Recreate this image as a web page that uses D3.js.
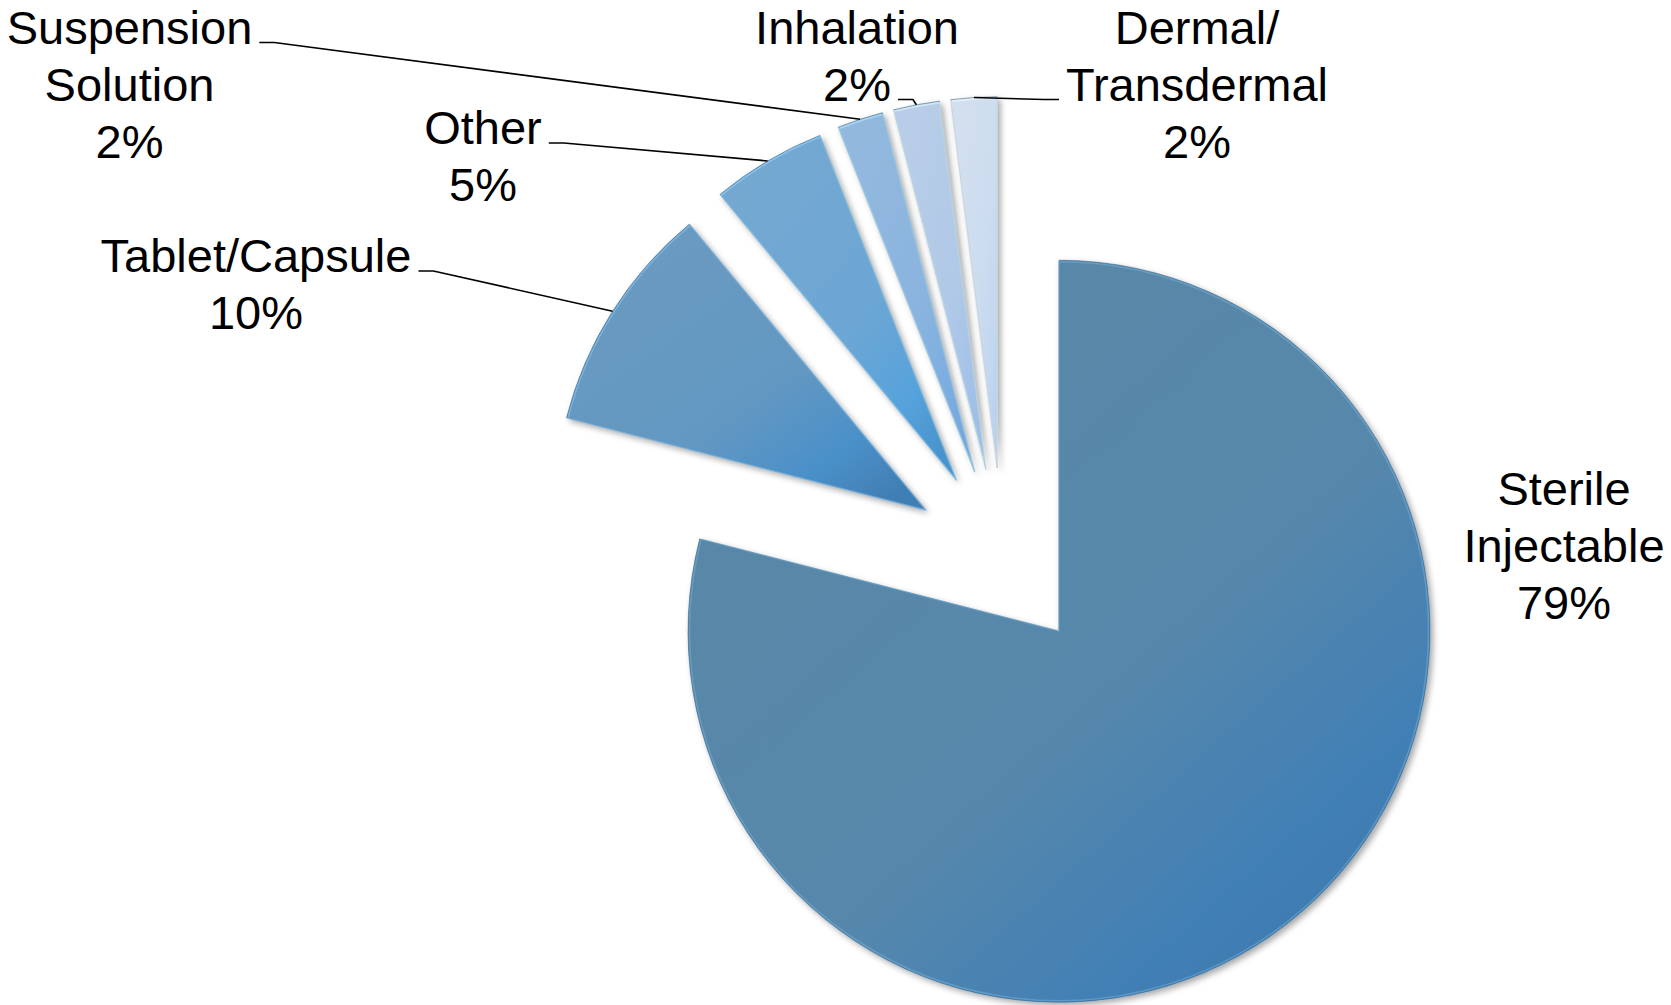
<!DOCTYPE html>
<html>
<head>
<meta charset="utf-8">
<script src="https://cdn.jsdelivr.net/npm/d3@7"></script>
<style>
  html, body { margin: 0; padding: 0; background: #ffffff; }
  svg { display: block; }
  text { font-family: "Liberation Sans", Arial, sans-serif; fill: #000; }
</style>
</head>
<body>
<svg id="chart" width="1671" height="1005"></svg>
<script>
// ---- data ----
const categories = ["Sterile Injectable", "Tablet/Capsule", "Other", "Suspension Solution", "Inhalation", "Dermal/Transdermal"];
const values = [79, 10, 5, 2, 2, 2];
const labelLines = [["Sterile", "Injectable"], ["Tablet/Capsule"], ["Other"], ["Suspension", "Solution"], ["Inhalation"], ["Dermal/", "Transdermal"]];
const percentLabels = ["79%", "10%", "5%", "2%", "2%", "2%"];

// ---- layout / style (not data) ----
const W = 1671, H = 1005;
const center = [1003, 559];
const radius = 371;
const explode = 91.4;
const fontSize = 47;
const lineHeight = 57;
// label placement: x centre, first baseline, leader side & which line carries the leader
const labelLayout = [
  { x: 1564, y: 505, leader: null },
  { x: 256, y: 272, leader: { side: "right", line: 0 } },
  { x: 483, y: 144, leader: { side: "right", line: 0 } },
  { x: 129.5, y: 43.5, leader: { side: "right", line: 0 } },
  { x: 857, y: 43.5, leader: { side: "right", line: 1 } },
  { x: 1197, y: 43.5, leader: { side: "left", line: 1 } }
];
const gradStops = [
  ["#5987a6", "#5788ab", "#4280b5", "#3b78ae"],
  ["#6a9ac0", "#6398c2", "#4a90c9", "#417fb3"],
  ["#74a8d1", "#6ca6d4", "#56a2dc", "#4a93cc"],
  ["#92b8de", "#8ab4de", "#7cade0", "#72a6dc"],
  ["#b8cde7", "#b0c9e7", "#a4c2e8", "#9cbde6"],
  ["#d2dfef", "#ccdcef", "#c2d7f0", "#b9d1ee"]
];

const svg = d3.select("#chart");
const defs = svg.append("defs");

const shadow = defs.append("filter").attr("id", "shadow")
  .attr("x", "-20%").attr("y", "-20%").attr("width", "140%").attr("height", "140%");
shadow.append("feDropShadow").attr("dx", 3).attr("dy", 3).attr("stdDeviation", 3)
  .attr("flood-color", "#000").attr("flood-opacity", 0.35);

gradStops.forEach((stops, i) => {
  const g = defs.append("linearGradient").attr("id", "grad" + i)
    .attr("x1", 0.15).attr("y1", 0.1).attr("x2", 0.9).attr("y2", 0.95);
  const offs = [0, 0.55, 0.82, 1];
  stops.forEach((c, k) => g.append("stop").attr("offset", offs[k]).attr("stop-color", c));
});

const data = categories.map((c, i) => ({ name: c, value: values[i], idx: i }));
const pie = d3.pie().value(d => d.value).sort(null).startAngle(0).endAngle(2 * Math.PI);
const arcs = pie(data);
const arc = d3.arc().innerRadius(0).outerRadius(radius);
const innerArc = d3.arc().innerRadius(0).outerRadius(radius - 1.5);

const root = svg.append("g").attr("transform", `translate(${center[0]},${center[1]})`);

function offsetOf(a) {
  const m = (a.startAngle + a.endAngle) / 2;
  return [Math.sin(m) * explode, -Math.cos(m) * explode];
}

const slices = root.selectAll("g.slice").data(arcs).enter().append("g")
  .attr("class", "slice")
  .attr("transform", d => { const o = offsetOf(d); return `translate(${o[0]},${o[1]})`; });

slices.append("path")
  .attr("d", arc)
  .attr("fill", d => `url(#grad${d.data.idx})`)
  .attr("filter", "url(#shadow)")
  .attr("stroke", "#2f5f86")
  .attr("stroke-opacity", 0.55)
  .attr("stroke-width", 1);

// bevel highlight
slices.append("path")
  .attr("d", innerArc)
  .attr("fill", "none")
  .attr("stroke", d => d3.color(gradStops[d.data.idx][0]).brighter(0.7))
  .attr("stroke-opacity", 0.55)
  .attr("stroke-width", 1.5);

// labels
const labelG = svg.append("g");
arcs.forEach((a, i) => {
  const L = labelLayout[i];
  const lines = labelLines[i].concat([percentLabels[i]]);
  const t = labelG.append("text")
    .attr("text-anchor", "middle")
    .attr("font-size", fontSize);
  const spans = lines.map((ln, k) => t.append("tspan")
    .attr("x", L.x).attr("y", L.y + k * lineHeight).text(ln));
  if (L.leader) {
    const span = spans[L.leader.line];
    const w = span.node().getComputedTextLength();
    const by = L.y + L.leader.line * lineHeight - 1;
    const o = offsetOf(a);
    const m = (a.startAngle + a.endAngle) / 2;
    const ax = center[0] + o[0] + Math.sin(m) * radius;
    const ay = center[1] + o[1] - Math.cos(m) * radius;
    let x0, x1;
    if (L.leader.side === "right") { x0 = L.x + w / 2 + 7; x1 = x0 + 15; }
    else { x0 = L.x - w / 2 - 7; x1 = x0 - 15; }
    labelG.append("path")
      .attr("d", d3.line()([[x0, by], [x1, by], [ax, ay]]))
      .attr("fill", "none")
      .attr("stroke", "#000")
      .attr("stroke-width", 1.6);
  }
});
</script>
</body>
</html>
